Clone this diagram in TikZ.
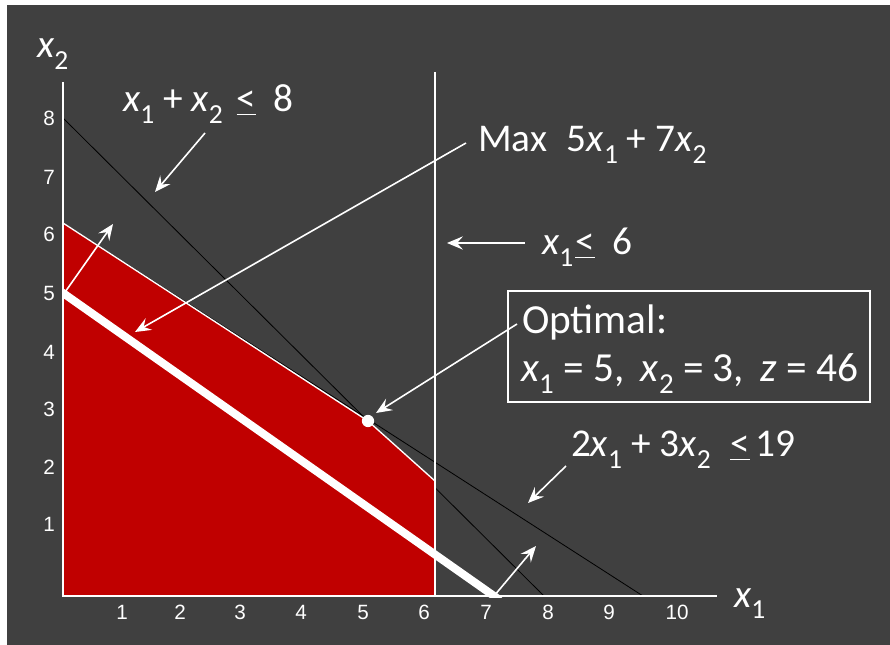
\documentclass[tikz,border=0pt]{standalone}
\usepackage{fontspec}
\usepackage{graphicx}
\setmainfont{Carlito}
\newfontfamily\tickfont{Liberation Sans}
\usetikzlibrary{arrows.meta}
\definecolor{bgdark}{RGB}{64,64,64}
\definecolor{feasred}{RGB}{192,0,0}
\newcommand\sbs[1]{\raisebox{-0.28em}{\scalebox{0.7}{#1}}}
\newcommand\xv[1]{\textit{x}\sbs{#1}}
\newcommand\leu{\underline{<}}
\tikzset{
  lbl/.style={text=white, anchor=base west, inner sep=0pt, outer sep=0pt},
  big/.style={font=\fontsize{29.5}{34}\selectfont},
  boxtext/.style={font=\fontsize{31}{36}\selectfont},
  tick/.style={text=white, font=\tickfont\fontsize{15.5}{18}\selectfont, inner sep=0pt},
  ptr/.style={draw=white, line width=1.2pt, -{Stealth[length=12pt,width=10pt,inset=4.5pt]}},
  thinline/.style={draw=black, line width=0.6pt},
}
\begin{document}
\begin{tikzpicture}[x=0.75pt,y=-0.75pt]
\useasboundingbox (0,0) rectangle (890,645);
\fill[white] (0,0) rectangle (890,645);
\fill[bgdark] (7,5) rectangle (890,645);

% constraint lines
\coordinate (c8a) at (63,118);
\coordinate (c8b) at (544,596);
\coordinate (c19a) at (63,223);
\coordinate (c19b) at (643,596);
\draw[thinline] (c8a) -- (c8b);
\draw[thinline] (c19a) -- (c19b);

% feasible region
\coordinate (opt) at (368,421);
\coordinate (rc) at (435,481);
\coordinate (rb) at (435,596);
\coordinate (O) at (63,596);
\fill[feasred] (c19a) -- (opt) -- (rc) -- (rb) -- (O) -- cycle;
\draw[white, line width=1pt] (c19a) -- (opt) -- (rc);

% x1 <= 6
\coordinate (v6t) at (435,72);
\draw[white, line width=1.3pt] (v6t) -- (rb);

% axes
\coordinate (ytop) at (63,82);
\coordinate (xend) at (717,596);
\draw[white, line width=1.6pt] (ytop) -- (O) -- (xend);

% objective line
\begin{scope}
\clip (63,0) rectangle (890,597);
\coordinate (objA) at (55,287.4);
\coordinate (objB) at (500,600.2);
\draw[white, line width=6pt] (objA) -- (objB);
\end{scope}

% optimal point
\fill[white] (opt) circle[radius=4.6pt];

% gradient arrows
\coordinate (g1a) at (63,295);
\coordinate (g1b) at (113,224);
\coordinate (g2a) at (494,596);
\coordinate (g2b) at (536,546);
\draw[ptr] (g1a) -- (g1b);
\draw[ptr] (g2a) -- (g2b);

% tick labels
\foreach \v/\x in {1/122,2/180,3/240,4/301,5/363,6/424,7/486,8/548,9/609,10/677}
  \node[tick] (tx\v) at (\x,612) {\v};
\foreach \v/\y in {1/524,2/467,3/409,4/352,5/293,6/234,7/177,8/118}
  \node[tick] (ty\v) at (49,\y) {\v};

% axis labels
\node[lbl, big] (x2lab) at (37,58) {\xv{2}};
\node[lbl, big] (x1lab) at (734,607) {\xv{1}};

% labels
\node[lbl, big] (lab8) at (123,112)
  {\xv{1} + \xv{2}\hspace{0.35em}\leu\hspace{0.45em}8};
\node[lbl, big] (labmax) at (478,152)
  {Max\hspace{0.5em}5\xv{1} + 7\xv{2}};
\node[lbl, big] (lab6) at (542,255)
  {\xv{1}\hspace{0.05em}\leu\hspace{0.45em}6};
\node[lbl, big] (lab19) at (571,457)
  {2\xv{1} + 3\xv{2}\hspace{0.5em}\leu\hspace{0.15em}19};

% optimal box
\draw[white, line width=1.2pt] (508,291) rectangle (870,402);
\node[lbl, boxtext] (optA) at (522,334) {Optimal:};
\node[lbl, boxtext] (optB) at (521,382)
  {\xv{1} = 5,\hspace{0.4em}\xv{2} = 3,\hspace{0.4em}\textit{z} = 46};

% pointer arrows
\coordinate (p8a) at (205,133);
\coordinate (p8b) at (155,192);
\draw[ptr] (p8a) -- (p8b);
\coordinate (pmaxa) at (466,143);
\coordinate (pmaxb) at (135,332);
\draw[ptr] (pmaxa) -- (pmaxb);
\coordinate (p6a) at (525,243);
\coordinate (p6b) at (447,243);
\draw[ptr] (p6a) -- (p6b);
\coordinate (popta) at (517,324);
\coordinate (poptb) at (376,413);
\draw[ptr] (popta) -- (poptb);
\coordinate (p19a) at (566,466);
\coordinate (p19b) at (528,503);
\draw[ptr] (p19a) -- (p19b);
\end{tikzpicture}
\end{document}
